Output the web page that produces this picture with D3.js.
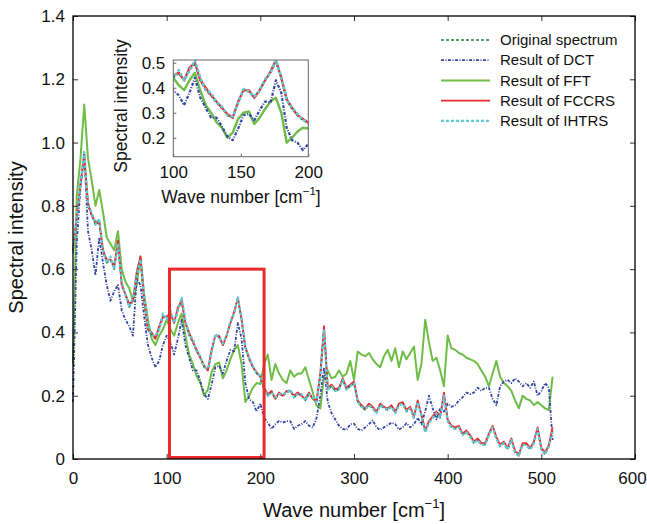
<!DOCTYPE html>
<html>
<head>
<meta charset="utf-8">
<style>
  body { margin: 0; background: #fff; }
  svg { display: block; font-family: "Liberation Sans", Arial, sans-serif; }
</style>
<script src="https://cdn.jsdelivr.net/npm/d3@7"></script>
</head>
<body>
<svg id="chart" width="647" height="524"></svg>
<script>
// wave number grid [cm^-1]
var waveNumber = [
  0,4,8,12,16,20,24,28,32,36, 40,44,48,52,56,60,64,68,72,76,
  80,84,88,92,96,100,104,108,112,116, 120,124,128,132,136,140,144,148,152,156,
  160,164,168,172,176,180,184,188,192,196, 200,204,208,212,216,220,224,228,232,236,
  240,244,248,252,256,260,264,268,272,276, 280,284,288,292,296,300,304,308,312,316,
  320,324,328,332,336,340,344,348,352,356, 360,364,368,372,376,380,384,388,392,396,
  400,404,408,412,416,420,424,428,432,436, 440,444,448,452,456,460,464,468,472,476,
  480,484,488,492,496,500,504,508,512
];

var original = [
  0.65,0.76,0.86,0.95,0.8,0.77,0.74,0.75,0.66,0.62,
  0.63,0.6,0.68,0.55,0.52,0.48,0.5,0.58,0.63,0.5,
  0.41,0.39,0.38,0.41,0.45,0.44,0.46,0.43,0.47,0.5,
  0.43,0.39,0.37,0.34,0.32,0.29,0.28,0.34,0.39,0.385,
  0.36,0.39,0.43,0.46,0.505,0.44,0.35,0.315,0.29,0.27,
  0.26,0.22,0.2,0.21,0.19,0.205,0.2,0.21,0.215,0.195,
  0.205,0.2,0.185,0.205,0.19,0.18,0.26,0.41,0.22,0.23,
  0.215,0.22,0.25,0.22,0.23,0.24,0.18,0.165,0.155,0.17,
  0.16,0.145,0.17,0.16,0.155,0.165,0.145,0.17,0.175,0.15,
  0.16,0.13,0.18,0.135,0.085,0.115,0.13,0.145,0.13,0.2,
  0.12,0.1,0.095,0.1,0.075,0.085,0.07,0.05,0.06,0.045,
  0.045,0.075,0.1,0.065,0.04,0.05,0.03,0.06,0.02,0.01,
  0.045,0.045,0.03,0.05,0.095,0.03,0.015,0.04,0.09
];

var dct = [
  0.18,0.68,0.86,0.97,0.72,0.66,0.58,0.7,0.62,0.55,
  0.5,0.53,0.55,0.47,0.44,0.42,0.39,0.57,0.55,0.45,
  0.36,0.32,0.29,0.31,0.36,0.39,0.37,0.33,0.38,0.44,
  0.36,0.32,0.28,0.28,0.245,0.205,0.19,0.235,0.29,0.295,
  0.27,0.31,0.345,0.34,0.43,0.38,0.24,0.19,0.18,0.15,
  0.175,0.13,0.115,0.095,0.11,0.12,0.115,0.12,0.12,0.095,
  0.105,0.11,0.12,0.105,0.1,0.13,0.2,0.29,0.18,0.145,
  0.125,0.105,0.095,0.092,0.11,0.112,0.095,0.09,0.1,0.11,
  0.122,0.1,0.092,0.1,0.107,0.115,0.11,0.093,0.1,0.113,
  0.1,0.11,0.13,0.11,0.15,0.2,0.16,0.125,0.16,0.15,
  0.175,0.165,0.17,0.185,0.195,0.21,0.205,0.21,0.225,0.215,
  0.225,0.225,0.19,0.17,0.23,0.245,0.25,0.24,0.255,0.245,
  0.23,0.24,0.225,0.245,0.2,0.215,0.24,0.225,0.06
];

var fft = [
  0.3,0.83,0.95,1.12,0.95,0.88,0.8,0.85,0.78,0.7,
  0.68,0.66,0.72,0.6,0.56,0.54,0.5,0.55,0.64,0.52,
  0.44,0.38,0.36,0.39,0.41,0.44,0.41,0.39,0.43,0.46,
  0.39,0.33,0.3,0.262,0.24,0.2,0.22,0.275,0.3,0.305,
  0.255,0.28,0.315,0.345,0.36,0.3,0.18,0.2,0.225,0.24,
  0.237,0.3,0.33,0.25,0.3,0.27,0.25,0.24,0.28,0.26,
  0.27,0.27,0.29,0.25,0.21,0.17,0.16,0.26,0.28,0.255,
  0.26,0.28,0.26,0.27,0.31,0.25,0.34,0.33,0.325,0.335,
  0.315,0.3,0.29,0.325,0.345,0.31,0.35,0.29,0.34,0.315,
  0.335,0.355,0.25,0.3,0.44,0.37,0.31,0.32,0.28,0.23,
  0.39,0.35,0.345,0.335,0.33,0.32,0.315,0.31,0.3,0.28,
  0.26,0.23,0.27,0.31,0.26,0.24,0.23,0.215,0.185,0.16,
  0.2,0.19,0.185,0.17,0.18,0.17,0.16,0.155,0.26
];

var fccrs = [
  0.66,0.77,0.87,0.96,0.81,0.77,0.75,0.75,0.66,0.63,
  0.63,0.61,0.69,0.55,0.52,0.49,0.5,0.59,0.64,0.5,
  0.41,0.4,0.38,0.42,0.45,0.45,0.46,0.43,0.48,0.5,
  0.43,0.4,0.37,0.345,0.32,0.295,0.28,0.345,0.39,0.39,
  0.36,0.39,0.43,0.465,0.51,0.44,0.355,0.32,0.29,0.275,
  0.26,0.225,0.205,0.215,0.19,0.21,0.2,0.215,0.215,0.2,
  0.21,0.2,0.19,0.21,0.19,0.185,0.27,0.42,0.225,0.235,
  0.22,0.225,0.255,0.225,0.235,0.245,0.185,0.17,0.16,0.175,
  0.165,0.15,0.175,0.165,0.16,0.17,0.15,0.175,0.18,0.155,
  0.165,0.135,0.185,0.14,0.09,0.12,0.135,0.15,0.135,0.21,
  0.125,0.105,0.1,0.105,0.08,0.09,0.075,0.055,0.065,0.05,
  0.05,0.08,0.105,0.07,0.045,0.055,0.035,0.065,0.025,0.015,
  0.05,0.05,0.035,0.055,0.1,0.035,0.02,0.045,0.1
];

var ihtrs = [
  0.65,0.77,0.87,0.97,0.8,0.78,0.74,0.76,0.66,0.62,
  0.64,0.6,0.68,0.56,0.52,0.48,0.51,0.58,0.63,0.51,
  0.42,0.39,0.39,0.41,0.46,0.44,0.47,0.43,0.47,0.51,
  0.44,0.39,0.38,0.34,0.325,0.29,0.285,0.34,0.395,0.385,
  0.365,0.39,0.435,0.46,0.51,0.445,0.35,0.32,0.295,0.27,
  0.265,0.22,0.2,0.21,0.195,0.205,0.205,0.21,0.22,0.195,
  0.205,0.205,0.185,0.205,0.195,0.18,0.26,0.41,0.22,0.23,
  0.215,0.22,0.25,0.22,0.23,0.24,0.18,0.165,0.16,0.17,
  0.16,0.145,0.17,0.165,0.155,0.165,0.145,0.17,0.175,0.15,
  0.16,0.13,0.18,0.135,0.085,0.115,0.13,0.145,0.13,0.2,
  0.12,0.1,0.095,0.1,0.075,0.085,0.07,0.05,0.06,0.045,
  0.045,0.075,0.1,0.065,0.04,0.05,0.03,0.06,0.02,0.01,
  0.045,0.045,0.03,0.05,0.095,0.03,0.015,0.04,0.085
];

var xTicks = [0, 100, 200, 300, 400, 500, 600];
var yTicks = [0, 0.2, 0.4, 0.6, 0.8, 1.0, 1.2, 1.4];
var insetXTicks = [100, 150, 200];
var insetYTicks = [0.2, 0.3, 0.4, 0.5];
var zoomBox = [103, 204, 0, 0.6]; // x0, x1, y0, y1 of the red frame

var series = [
  {key: "fft",      label: "Result of FFT",     values: fft,      color: "#6dbd46", w: 2,   dash: null},
  {key: "dct",      label: "Result of DCT",     values: dct,      color: "#3446a6", w: 1.8, dash: "3,1.5,1,1.5"},
  {key: "original", label: "Original spectrum", values: original, color: "#1e7b3e", w: 1.6, dash: "3,2"},
  {key: "fccrs",    label: "Result of FCCRS",   values: fccrs,    color: "#ec2a2d", w: 1.8, dash: null},
  {key: "ihtrs",    label: "Result of IHTRS",   values: ihtrs,    color: "#5fcad8", w: 2.2, dash: "3,2"}
];
var legendOrder = ["original", "dct", "fft", "fccrs", "ihtrs"];

var width = 647, height = 524;
var margin = {top: 16, right: 12, bottom: 65, left: 73};

var svg = d3.select("#chart");

var x = d3.scaleLinear().domain([0, 600]).range([margin.left, width - margin.right]);
var y = d3.scaleLinear().domain([0, 1.4]).range([height - margin.bottom, margin.top]);

function pts(vals) { return vals.map(function(v, i) { return [waveNumber[i], v]; }); }

// lines
var line = d3.line().x(function(d) { return x(d[0]); }).y(function(d) { return y(d[1]); });
var gLines = svg.append("g");
series.forEach(function(s) {
  gLines.append("path")
    .datum(pts(s.values))
    .attr("d", line)
    .attr("fill", "none")
    .attr("stroke", s.color)
    .attr("stroke-width", s.w)
    .attr("stroke-dasharray", s.dash)
    .attr("stroke-linejoin", "round");
});

// red zoom frame
svg.append("rect")
  .attr("x", x(zoomBox[0]))
  .attr("y", y(zoomBox[3]))
  .attr("width", x(zoomBox[1]) - x(zoomBox[0]))
  .attr("height", y(zoomBox[2]) - y(zoomBox[3]) - 1.5)
  .attr("fill", "none")
  .attr("stroke", "#ec2a2d")
  .attr("stroke-width", 3);

// axes, ticks pointing inward
var fmtY = function(d) { return d === 0 ? "0" : d3.format(".1f")(d); };
var bottom = svg.append("g").attr("transform", "translate(0," + y(0) + ")")
  .call(d3.axisBottom(x).tickValues(xTicks).tickSizeInner(-5).tickSizeOuter(0).tickPadding(13));
var left = svg.append("g").attr("transform", "translate(" + x(0) + ",0)")
  .call(d3.axisLeft(y).tickValues(yTicks).tickFormat(fmtY).tickSizeInner(-5).tickSizeOuter(0).tickPadding(8));
svg.append("g").attr("transform", "translate(0," + y(1.4) + ")")
  .call(d3.axisTop(x).tickValues(xTicks).tickSizeInner(-5).tickSizeOuter(0).tickFormat(""));
svg.append("g").attr("transform", "translate(" + x(600) + ",0)")
  .call(d3.axisRight(y).tickValues(yTicks).tickSizeInner(-5).tickSizeOuter(0).tickFormat(""));
svg.selectAll(".domain").remove();
svg.selectAll(".tick line").attr("stroke", "#333");
svg.selectAll(".tick text").attr("font-size", 17).attr("font-family", "Liberation Sans, Arial, sans-serif").attr("fill", "#111");
// last x label sits against the page edge
bottom.selectAll(".tick text").filter(function(d) { return d === 600; }).attr("dx", -3);

svg.append("rect")
  .attr("x", x(0)).attr("y", y(1.4))
  .attr("width", x(600) - x(0)).attr("height", y(0) - y(1.4))
  .attr("fill", "none").attr("stroke", "#000").attr("stroke-width", 1.3);

// axis titles
var xt = svg.append("text").attr("x", x(300)).attr("y", 517)
  .attr("text-anchor", "middle").attr("font-size", 20).attr("fill", "#111");
xt.append("tspan").text("Wave number [cm");
xt.append("tspan").attr("font-size", 13).attr("dy", -9).text("\u22121");
xt.append("tspan").attr("dy", 9).text("]");

svg.append("text")
  .attr("transform", "translate(23," + y(0.7) + ") rotate(-90)")
  .attr("text-anchor", "middle").attr("font-size", 20).attr("fill", "#111")
  .text("Spectral intensity");

// legend
var lg = svg.append("g");
legendOrder.forEach(function(k, i) {
  var s = series.filter(function(d) { return d.key === k; })[0];
  var yy = 40 + i * 20.2;
  lg.append("line")
    .attr("x1", 441).attr("x2", 490).attr("y1", yy).attr("y2", yy)
    .attr("stroke", s.color).attr("stroke-width", s.w)
    .attr("stroke-dasharray", s.dash);
  lg.append("text").attr("x", 500).attr("y", yy).attr("dy", "0.35em")
    .attr("font-size", 15).attr("fill", "#111").text(s.label);
});

// inset
var ix = d3.scaleLinear().domain([100, 200]).range([173.3, 308.3]);
var iy = d3.scaleLinear().domain([0.124, 0.511]).range([156.7, 60]);
var inset = svg.append("g");
svg.append("clipPath").attr("id", "insetClip").append("rect")
  .attr("x", ix(100)).attr("y", iy(0.511))
  .attr("width", ix(200) - ix(100)).attr("height", iy(0.124) - iy(0.511));
inset.append("rect")
  .attr("x", ix(100)).attr("y", iy(0.511))
  .attr("width", ix(200) - ix(100)).attr("height", iy(0.124) - iy(0.511))
  .attr("fill", "#fff");
var iline = d3.line()
  .defined(function(d) { return d[0] >= 96 && d[0] <= 204; })
  .x(function(d) { return ix(d[0]); }).y(function(d) { return iy(d[1]); });
var gInset = inset.append("g").attr("clip-path", "url(#insetClip)");
series.forEach(function(s) {
  gInset.append("path")
    .datum(pts(s.values))
    .attr("d", iline)
    .attr("fill", "none")
    .attr("stroke", s.color)
    .attr("stroke-width", s.w + 0.4)
    .attr("stroke-dasharray", s.dash)
    .attr("stroke-linejoin", "round");
});
inset.append("g").attr("transform", "translate(0," + iy(0.124) + ")")
  .call(d3.axisBottom(ix).tickValues(insetXTicks).tickSizeInner(-3).tickSizeOuter(0).tickPadding(9));
inset.append("g").attr("transform", "translate(" + ix(100) + ",0)")
  .call(d3.axisLeft(iy).tickValues(insetYTicks).tickFormat(d3.format(".1f")).tickSizeInner(-3).tickSizeOuter(0).tickPadding(8));
inset.selectAll(".domain").remove();
inset.selectAll(".tick line").attr("stroke", "#666");
inset.selectAll(".tick text").attr("font-size", 17).attr("font-family", "Liberation Sans, Arial, sans-serif").attr("fill", "#111");
inset.append("rect")
  .attr("x", ix(100)).attr("y", iy(0.511))
  .attr("width", ix(200) - ix(100)).attr("height", iy(0.124) - iy(0.511))
  .attr("fill", "none").attr("stroke", "#666").attr("stroke-width", 1);

var ixt = inset.append("text").attr("x", 241).attr("y", 203)
  .attr("text-anchor", "middle").attr("font-size", 17.5).attr("fill", "#111");
ixt.append("tspan").text("Wave number [cm");
ixt.append("tspan").attr("font-size", 11.5).attr("dy", -8).text("\u22121");
ixt.append("tspan").attr("dy", 8).text("]");
inset.append("text")
  .attr("transform", "translate(127,106) rotate(-90)")
  .attr("text-anchor", "middle").attr("font-size", 17.5).attr("fill", "#111")
  .text("Spectral intensity");
</script>
</body>
</html>
